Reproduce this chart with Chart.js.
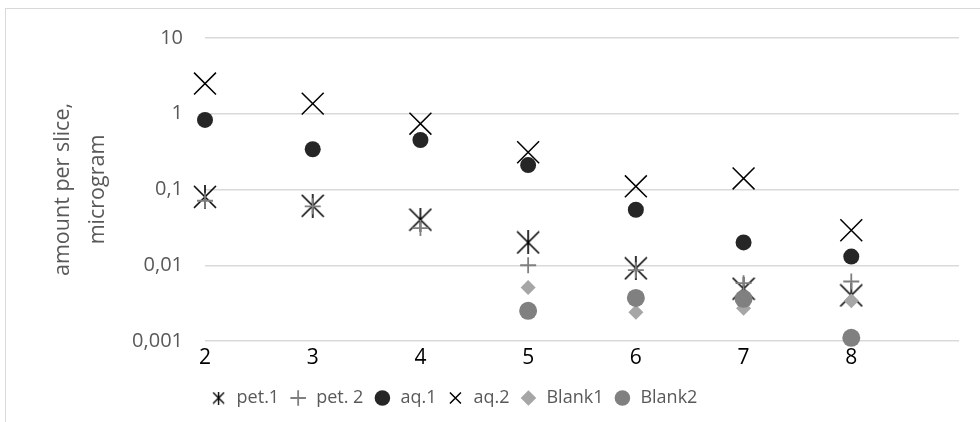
<!DOCTYPE html>
<html>
<head>
<meta charset="utf-8">
<script src="https://cdn.jsdelivr.net/npm/chart.js@4/dist/chart.umd.min.js"></script>
<style>
  html, body { margin: 0; padding: 0; background: #fff; overflow: hidden; }
  #wrap { position: relative; width: 980px; height: 422px; }
  #frame { position: absolute; left: 5px; top: 8px; width: 1100px; height: 600px; border: 1px solid #d9d9d9; box-sizing: border-box; }
  #chart { position: absolute; left: 0; top: 0; }
</style>
</head>
<body>
<div id="wrap">
  <div id="frame"></div>
  <canvas id="chart" width="980" height="422"></canvas>
</div>
<script>
// sample numbers (x axis)
const muestras = [2, 3, 4, 5, 6, 7, 8];

// amount per slice, microgram
const pet1   = [0.08, 0.061, 0.040, 0.020, 0.0091, 0.0049, 0.0040];
const pet2   = [0.071, 0.060, 0.031, 0.010, 0.0086, 0.0058, 0.0061];
const aq1    = [0.83, 0.34, 0.45, 0.21, 0.054, 0.020, 0.013];
const aq2    = [2.5, 1.36, 0.74, 0.31, 0.11, 0.14, 0.029];
const blank1 = [null, null, null, 0.0051, 0.0024, 0.0027, 0.0034];
const blank2 = [null, null, null, 0.0025, 0.0037, 0.0036, 0.0011];

const nombres = ["pet.1", "pet. 2", "aq.1", "aq.2", "Blank1", "Blank2"];

const yTicks = [0.001, 0.01, 0.1, 1, 10];
const yTickLabels = ["0,001", "0,01", "0,1", "1", "10"];
const xTickLabels = ["2", "3", "4", "5", "6", "7", "8"];

const FUENTE = "'Open Sans', sans-serif";

// asterisco tipo excel: X con barra vertical
function asterisco(tam, grosor) {
    const c = document.createElement("canvas");
    c.width = tam; c.height = tam;
    const g = c.getContext("2d");
    g.strokeStyle = "#000";
    g.lineWidth = grosor;
    const m = tam / 2, r = tam / 2 - 1;
    g.beginPath();
    g.moveTo(m - r, m - r); g.lineTo(m + r, m + r);
    g.moveTo(m + r, m - r); g.lineTo(m - r, m + r);
    g.moveTo(m, 0); g.lineTo(m, tam);
    g.stroke();
    return c;
}
const astGrande = asterisco(24, 1.6);
const astChico = asterisco(13, 1.4);

const puntos = (vals) => muestras.map((x, i) => ({ x, y: vals[i] })).filter(p => p.y !== null);

const estilos = [
    { data: pet1,   pointStyle: astGrande,  color: "#000000", radius: 12,  bw: 1.6 },
    { data: pet2,   pointStyle: "cross",    color: "#7f7f7f", radius: 8,   bw: 1.8 },
    { data: aq1,    pointStyle: "circle",   color: "#262626", radius: 8,   bw: 0 },
    { data: aq2,    pointStyle: "crossRot", color: "#000000", radius: 15.5, bw: 1.5 },
    { data: blank1, pointStyle: "rectRot",  color: "#a6a6a6", radius: 7.5, bw: 0 },
    { data: blank2, pointStyle: "circle",   color: "#808080", radius: 9,   bw: 0 }
];

const datasets = estilos.map((e, i) => ({
    label: nombres[i],
    data: puntos(e.data),
    pointStyle: e.pointStyle,
    pointRadius: e.radius,
    pointHoverRadius: e.radius,
    pointBorderWidth: e.bw,
    borderColor: e.color,
    backgroundColor: e.color,
    showLine: false,
    clip: false,
    order: estilos.length - i
}));

// corre la leyenda a la izquierda como en el original
const moverLeyenda = {
    id: "moverLeyenda",
    afterLayout(chart) {
        const lg = chart.legend;
        if (!lg) return;
        lg.left -= 26;
        lg.right -= 26;
    }
};

new Chart(document.getElementById("chart"), {
    type: "scatter",
    data: { datasets },
    plugins: [moverLeyenda],
    options: {
        responsive: false,
        devicePixelRatio: 1,
        animation: false,
        layout: { padding: { top: 38, right: 21, left: 0, bottom: 5 } },
        plugins: {
            tooltip: { enabled: false },
            legend: {
                position: "bottom",
                reverse: true,
                labels: {
                    usePointStyle: true,
                    boxHeight: 11,
                    padding: 10,
                    color: "#595959",
                    font: { family: FUENTE, size: 18 },
                    generateLabels(chart) {
                        const items = Chart.defaults.plugins.legend.labels.generateLabels(chart);
                        items.forEach(it => {
                            if (it.datasetIndex === 0) it.pointStyle = astChico;
                        });
                        return items;
                    }
                }
            }
        },
        scales: {
            x: {
                type: "linear",
                min: 2,
                max: 9,
                ticks: {
                    stepSize: 1,
                    autoSkip: false,
                    maxRotation: 0,
                    padding: 4,
                    color: "#000",
                    font: { family: FUENTE, size: 21 },
                    callback: (v) => xTickLabels[muestras.indexOf(v)] ?? ""
                },
                grid: { display: false, drawTicks: false },
                border: { display: false },
                afterFit(s) { s.height = 38; }
            },
            y: {
                type: "logarithmic",
                min: 0.001,
                max: 10,
                afterBuildTicks(s) { s.ticks = yTicks.map(v => ({ value: v })); },
                ticks: {
                    padding: 22,
                    color: "#595959",
                    font: { family: FUENTE, size: 20 },
                    callback: (v) => yTickLabels[yTicks.indexOf(v)] ?? ""
                },
                grid: { color: "#d9d9d9", lineWidth: 1.5, drawTicks: false },
                border: { display: false },
                title: {
                    display: true,
                    text: ["amount per slice,", "microgram"],
                    color: "#595959",
                    font: { family: FUENTE, size: 21.5, lineHeight: 1.65 },
                    padding: { top: 45, bottom: 0 }
                },
                afterFit(s) { s.width = 205; }
            }
        }
    }
});
</script>
</body>
</html>
